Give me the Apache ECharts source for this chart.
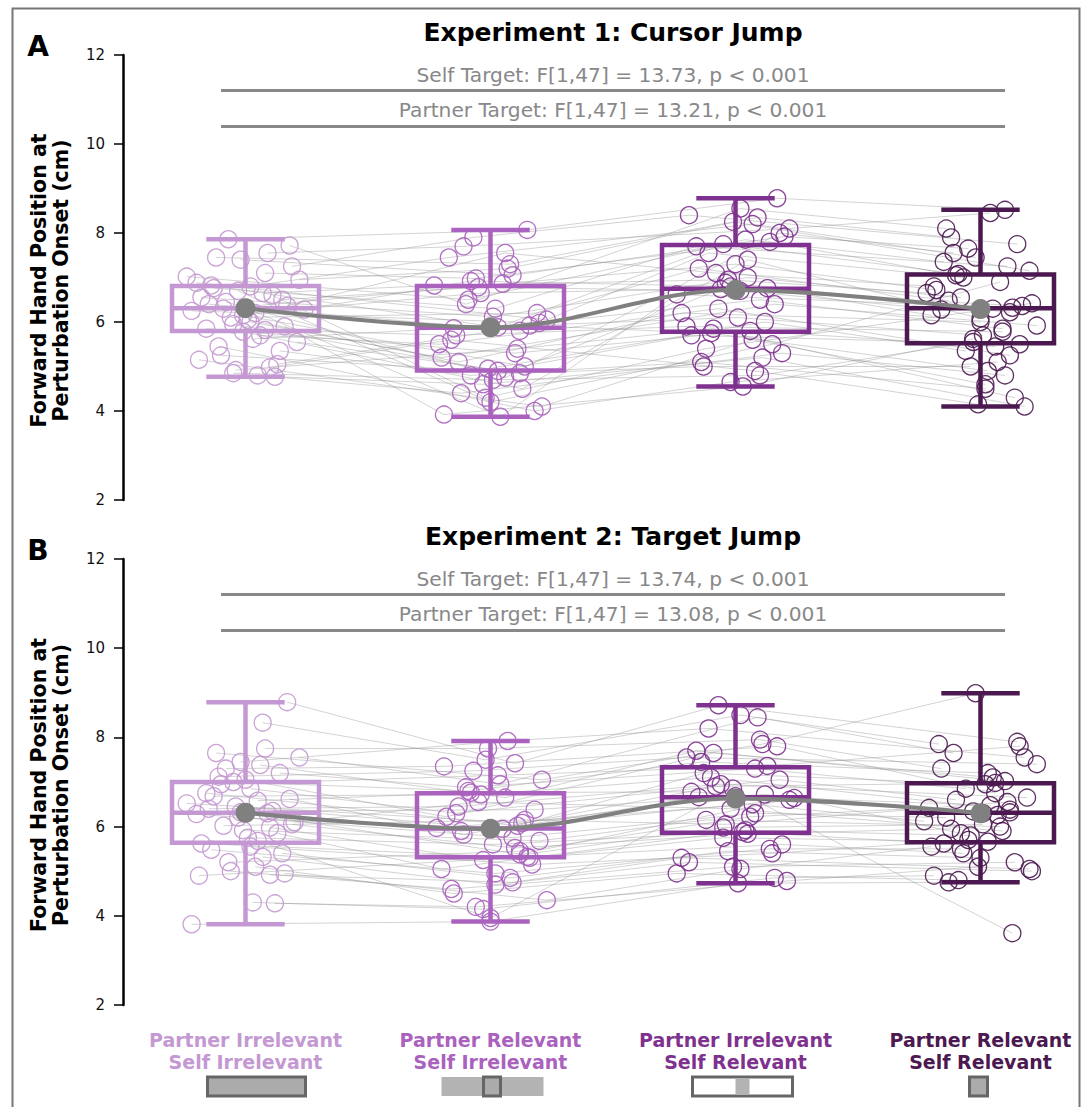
<!DOCTYPE html>
<html><head><meta charset="utf-8">
<script src="https://cdn.jsdelivr.net/npm/echarts@6/dist/echarts.min.js"></script>
<style>html,body{margin:0;padding:0;background:#fff}#chart{width:1089px;height:1107px}</style>
</head><body><div id="chart"></div>
<script>
// ---------------- DATA ----------------
const categories = ['Partner Irrelevant\nSelf Irrelevant', 'Partner Relevant\nSelf Irrelevant', 'Partner Irrelevant\nSelf Relevant', 'Partner Relevant\nSelf Relevant'];
const panelLetters = ['A', 'B'];
const panelTitles = ['Experiment 1: Cursor Jump', 'Experiment 2: Target Jump'];
const statTextsA = ['Self Target: F[1,47] = 13.73, p < 0.001', 'Partner Target: F[1,47] = 13.21, p < 0.001'];
const statTextsB = ['Self Target: F[1,47] = 13.74, p < 0.001', 'Partner Target: F[1,47] = 13.08, p < 0.001'];
const statLineY = [11.2, 10.4];
const yAxisName = 'Forward Hand Position at\nPerturbation Onset (cm)';
const yTicks = [2, 4, 6, 8, 10, 12];

// box stats: [lower whisker, q1, median, q3, upper whisker]
const boxA = [[4.77, 5.80, 6.31, 6.81, 7.86], [3.87, 4.91, 5.87, 6.81, 8.07], [4.55, 5.78, 6.75, 7.73, 8.78], [4.10, 5.52, 6.31, 7.07, 8.52]];
const boxB = [[3.81, 5.64, 6.31, 7.00, 8.79], [3.87, 5.31, 5.96, 6.75, 7.92], [4.73, 5.86, 6.66, 7.33, 8.72], [4.75, 5.65, 6.31, 6.97, 8.99]];
const meanA = [6.31, 5.88, 6.72, 6.29];
const meanB = [6.31, 5.95, 6.63, 6.30];

// individual participants (index = participant), panel A
const a1 = [7.10,6.40,6.80,5.95,7.72,6.25,6.60,7.40,5.70,6.30,7.86,5.35,6.55,6.05,6.95,5.45,6.20,4.92,5.90,6.76,7.55,6.15,4.77,6.88,5.62,6.45,7.25,5.85,6.65,6.70,5.05,7.02,6.32,4.98,7.45,5.55,6.10,4.80,6.82,6.50,5.25,6.00,6.36,5.15,5.82,4.85,6.28,5.78];
const a2 = [6.98,5.80,7.45,4.90,6.40,5.98,4.30,7.05,5.50,6.86,8.07,4.80,6.12,5.10,7.20,4.00,6.65,5.40,3.92,6.30,7.70,5.00,4.60,6.05,5.86,4.75,7.90,5.30,6.82,4.20,5.92,6.50,3.87,5.60,7.30,4.95,6.20,4.40,5.88,6.78,4.85,5.20,7.55,4.10,5.70,4.70,6.92,4.50];
const a3 = [7.80,6.88,8.20,5.70,8.55,6.50,5.40,7.92,6.30,7.30,8.78,5.10,7.00,6.20,8.35,4.65,6.76,5.85,4.55,7.70,8.10,6.74,5.20,7.55,6.10,8.00,8.40,5.80,6.95,5.50,5.75,7.85,6.62,4.90,8.25,6.00,7.20,5.30,7.75,6.70,5.00,6.40,7.10,5.60,5.90,4.80,6.80,7.40];
const a4 = [7.05,6.30,7.45,5.50,8.10,5.85,6.42,7.65,5.25,6.72,8.52,4.50,6.55,6.00,7.90,5.10,6.15,4.30,5.62,7.25,8.45,6.28,4.10,7.00,5.70,7.55,7.75,5.45,6.65,6.90,4.90,7.35,6.32,4.15,7.15,5.35,6.48,4.80,7.08,6.36,5.00,5.92,6.80,4.60,5.78,5.55,6.22,6.08];
// panel B
const b1 = [7.20,6.45,8.33,5.62,6.85,4.92,7.65,6.10,5.20,7.05,8.79,5.48,6.58,3.81,6.30,7.45,5.85,6.02,4.30,6.75,7.55,5.00,6.35,7.12,5.75,6.62,4.90,7.38,6.20,5.40,6.95,5.10,6.52,7.75,5.92,4.28,6.40,6.05,7.00,5.55,6.68,4.95,7.30,5.32,6.28,5.98,6.32,5.68];
const b2 = [6.88,5.95,7.50,5.30,6.30,4.75,7.05,6.55,5.45,6.22,7.42,4.95,6.76,3.87,5.90,7.92,5.05,6.15,4.15,6.02,6.95,4.60,6.38,7.25,5.60,5.82,5.32,6.65,5.97,4.85,7.15,4.50,6.08,7.75,5.68,4.20,6.45,5.52,6.80,5.15,6.72,4.35,7.35,4.70,5.75,5.25,5.38,3.95];
const b3 = [7.30,6.66,8.50,5.75,7.05,5.30,7.85,6.40,6.22,7.65,8.72,5.50,6.78,4.73,6.60,8.20,5.92,6.05,4.85,7.20,8.45,5.10,6.72,7.55,5.88,6.90,5.60,7.70,6.50,5.45,7.36,4.95,6.68,7.95,6.15,4.78,6.95,5.84,7.45,5.40,7.10,5.05,7.80,5.20,6.30,5.98,6.64,6.85];
const b4 = [6.85,6.32,7.85,5.66,6.60,5.05,8.99,5.90,6.42,7.10,7.90,5.50,6.30,4.75,6.26,7.55,5.80,6.55,4.90,6.95,7.65,5.20,6.34,7.40,5.62,6.98,5.40,7.02,6.12,5.30,7.80,4.80,6.48,7.30,6.00,5.10,6.65,5.95,7.20,5.70,6.38,5.55,6.75,5.00,6.20,6.05,5.85,3.61];

// horizontal jitter of each circle (in category units)
const jit1 = [0.08,-0.15,0.02,-0.05,0.18,-0.22,0.11,-0.02,0.06,-0.09,-0.07,0.14,-0.18,0.01,0.22,-0.11,0.04,-0.04,0.16,-0.13,0.09,-0.01,0.12,-0.2,0.03,-0.08,0.19,-0.16,0.07,-0.03,0.13,-0.24,0.0,0.1,-0.12,0.21,-0.06,0.05,-0.14,0.15,-0.1,0.02,0.17,-0.19,0.08,-0.05,0.24,-0.01];
const jit2 = [-0.06,0.12,-0.17,0.03,-0.1,0.2,-0.02,0.09,-0.21,0.05,0.15,-0.08,0.01,-0.13,0.07,0.18,-0.04,0.11,-0.19,0.02,-0.11,0.14,-0.03,0.23,-0.15,0.06,-0.07,0.1,-0.23,0.0,0.16,-0.09,0.04,-0.16,0.08,-0.01,0.19,-0.12,0.03,-0.05,0.12,-0.2,0.06,0.21,-0.14,0.01,-0.08,0.13];
const jit3 = [0.14,-0.04,0.07,-0.18,0.02,0.1,-0.12,0.2,-0.07,0.0,0.17,-0.14,0.05,-0.22,0.09,-0.02,0.13,-0.09,0.03,-0.16,0.22,-0.06,0.11,-0.11,0.01,0.18,-0.19,0.06,-0.03,0.15,-0.1,0.04,-0.24,0.08,-0.01,0.12,-0.15,0.19,-0.05,0.02,-0.13,0.16,-0.08,0.07,-0.2,0.1,-0.02,0.05];
const jit4 = [-0.1,0.05,-0.02,0.16,-0.14,0.09,0.21,-0.05,0.12,-0.18,0.1,0.02,-0.08,0.0,-0.12,0.07,-0.2,0.14,-0.03,0.11,0.04,-0.16,0.18,-0.07,0.01,-0.11,0.15,0.06,-0.22,0.08,0.03,-0.15,0.13,-0.01,0.2,-0.06,-0.13,0.1,-0.09,0.17,-0.04,0.23,-0.19,0.02,0.09,-0.03,0.12,0.0];

// ---------------- STYLE / LAYOUT ----------------
const FONT = '"DejaVu Sans", Verdana, sans-serif';
const colors = ['#c498d2', '#aa62be', '#7e318e', '#4b1950'];
const GREY = '#808080';
const panels = [
  {box: boxA, mean: meanA, vals: [a1, a2, a3, a4], jit: [jit1, jit2, jit3, jit4], stat: statTextsA, top: 55, height: 445},
  {box: boxB, mean: meanB, vals: [b1, b2, b3, b4], jit: [jit3, jit4, jit1, jit2], stat: statTextsB, top: 559, height: 446}
];
const GRID_LEFT = 123, XMIN = -0.5, XMAX = 3.4, UNIT = 245;

const chart = echarts.init(document.getElementById('chart'), null, {renderer: 'svg'});

function renderBox(params, api) {
  const c = api.value(0);
  const col = colors[c];
  const hw = api.size([0.3, 0])[0];
  const cw = api.size([0.16, 0])[0];
  const lo = api.coord([c, api.value(1)]);
  const q1 = api.coord([c, api.value(2)]);
  const md = api.coord([c, api.value(3)]);
  const q3 = api.coord([c, api.value(4)]);
  const hi = api.coord([c, api.value(5)]);
  const x = lo[0];
  const st = {stroke: col, lineWidth: 4.5, fill: 'rgba(0,0,0,0)'};
  return {type: 'group', children: [
    {type: 'line', shape: {x1: x, y1: q3[1], x2: x, y2: hi[1]}, style: st},
    {type: 'line', shape: {x1: x, y1: q1[1], x2: x, y2: lo[1]}, style: st},
    {type: 'line', shape: {x1: x - cw, y1: hi[1], x2: x + cw, y2: hi[1]}, style: st},
    {type: 'line', shape: {x1: x - cw, y1: lo[1], x2: x + cw, y2: lo[1]}, style: st},
    {type: 'rect', shape: {x: x - hw, y: q3[1], width: 2 * hw, height: q1[1] - q3[1]}, style: st},
    {type: 'line', shape: {x1: x - hw, y1: md[1], x2: x + hw, y2: md[1]}, style: st}
  ]};
}

const grid = [], xAxis = [], yAxis = [], series = [];
panels.forEach((p, pi) => {
  grid.push({left: GRID_LEFT, top: p.top, width: UNIT * (XMAX - XMIN), height: p.height});
  xAxis.push({type: 'value', gridIndex: pi, min: XMIN, max: XMAX, show: false});
  yAxis.push({type: 'value', gridIndex: pi, min: yTicks[0], max: yTicks[yTicks.length - 1], interval: 2, position: 'left',
    axisLine: {show: true, onZero: false, lineStyle: {color: '#000', width: 2.5}},
    axisTick: {show: true, length: 9, lineStyle: {color: '#000', width: 1.5}},
    axisLabel: {margin: 18, color: '#111', fontSize: 15, fontFamily: FONT},
    splitLine: {show: false}});
  // participant connecting lines
  const n = p.vals[0].length;
  const lineData = [];
  for (let i = 0; i < n; i++) {
    lineData.push({coords: p.vals.map((arr, c) => [c + p.jit[c][i], arr[i]])});
  }
  series.push({type: 'lines', coordinateSystem: 'cartesian2d', xAxisIndex: pi, yAxisIndex: pi, polyline: true, silent: true, z: 1,
    lineStyle: {color: '#8c8c8c', width: 0.7, opacity: 0.55}, data: lineData});
  // statistic bracket lines
  series.push({type: 'lines', coordinateSystem: 'cartesian2d', xAxisIndex: pi, yAxisIndex: pi, silent: true, z: 2,
    lineStyle: {color: '#888', width: 3, opacity: 1},
    data: statLineY.map(y => ({coords: [[0 - 0.1, y], [3 + 0.1, y]]}))});
  // boxes
  series.push({type: 'custom', xAxisIndex: pi, yAxisIndex: pi, z: 3, silent: true,
    encode: {x: 0, y: [1, 2, 3, 4, 5]}, renderItem: renderBox,
    data: p.box.map((s, c) => [c].concat(s))});
  // circles
  p.vals.forEach((arr, c) => {
    series.push({type: 'scatter', xAxisIndex: pi, yAxisIndex: pi, z: 4, silent: true, symbol: 'circle', symbolSize: 17,
      itemStyle: {color: 'rgba(0,0,0,0)', borderColor: colors[c], borderWidth: 1.3, opacity: 0.9},
      data: arr.map((v, i) => [c + p.jit[c][i], v])});
  });
  // mean line
  series.push({type: 'line', xAxisIndex: pi, yAxisIndex: pi, z: 6, silent: true, smooth: 0.35,
    symbol: 'circle', symbolSize: 20, showSymbol: true,
    itemStyle: {color: GREY}, lineStyle: {color: GREY, width: 4},
    data: p.mean.map((m, c) => [c, m])});
});

chart.setOption({animation: false, backgroundColor: '#fff', grid, xAxis, yAxis, series});

// ---------------- TEXT / DECORATION (positions from the axes) ----------------
const graphic = [];
graphic.push({type: 'rect', shape: {x: 12.5, y: 8.5, width: 1067, height: 1120}, style: {fill: 'rgba(0,0,0,0)', stroke: '#777', lineWidth: 2}, z: 0});
function txt(x, y, text, font, fill, extra) {
  return Object.assign({type: 'text', x, y, z: 10, style: {text, font, fill, textAlign: 'center', textVerticalAlign: 'middle', align: 'center', verticalAlign: 'middle'}}, extra || {});
}
panels.forEach((p, pi) => {
  const xl = chart.convertToPixel({xAxisIndex: pi}, -0.1);
  const xr = chart.convertToPixel({xAxisIndex: pi}, 3.1);
  const xm = (xl + xr) / 2;
  const y12 = chart.convertToPixel({yAxisIndex: pi}, 12);
  const y2 = chart.convertToPixel({yAxisIndex: pi}, 2);
  graphic.push(txt(38, y12 - 9, panelLetters[pi], 'bold 28px ' + FONT, '#000'));
  graphic.push(txt(xm, y12 - 23, panelTitles[pi], 'bold 25px ' + FONT, '#000'));
  statLineY.forEach((y, k) => {
    const py = chart.convertToPixel({yAxisIndex: pi}, y);
    graphic.push(txt(xm, py - 16, p.stat[k], '20.2px ' + FONT, '#888'));
  });
  const g = {type: 'text', x: 50, y: (y12 + y2) / 2 + 3, rotation: Math.PI / 2, z: 10,
    style: {text: yAxisName, font: 'bold 20.5px ' + FONT, fill: '#000', lineHeight: 22, textAlign: 'center', textVerticalAlign: 'middle', align: 'center', verticalAlign: 'middle'}};
  graphic.push(g);
});
// category labels and condition icons
const ICON_TOP = 1077, ICON_H = 19;
categories.forEach((name, c) => {
  const cx = chart.convertToPixel({xAxisIndex: 1}, c);
  graphic.push({type: 'text', x: cx, y: 1051, z: 10, style: {text: name, font: 'bold 19px ' + FONT, fill: colors[c], lineHeight: 22, textAlign: 'center', textVerticalAlign: 'middle', align: 'center', verticalAlign: 'middle'}});
});
const icons = [
  [{x: -38, w: 98, fill: '#ababab', stroke: '#666'}],
  [{x: -49, w: 102, fill: '#b3b3b3', stroke: null}, {x: -7, w: 17, fill: '#ababab', stroke: '#666'}],
  [{x: -43, w: 100, fill: '#fff', stroke: '#666'}, {x: 0, w: 14, fill: '#b3b3b3', stroke: null, inset: true}],
  [{x: -11, w: 18, fill: '#ababab', stroke: '#666'}]
];
icons.forEach((parts, c) => {
  const cx = chart.convertToPixel({xAxisIndex: 1}, c);
  parts.forEach(pt => {
    const y = pt.inset ? ICON_TOP + 1.5 : ICON_TOP;
    const h = pt.inset ? ICON_H - 3 : ICON_H;
    graphic.push({type: 'rect', z: 10, shape: {x: cx + pt.x, y, width: pt.w, height: h},
      style: {fill: pt.fill, stroke: pt.stroke || 'rgba(0,0,0,0)', lineWidth: pt.stroke ? 3 : 0}});
  });
});
chart.setOption({graphic});
</script></body></html>
